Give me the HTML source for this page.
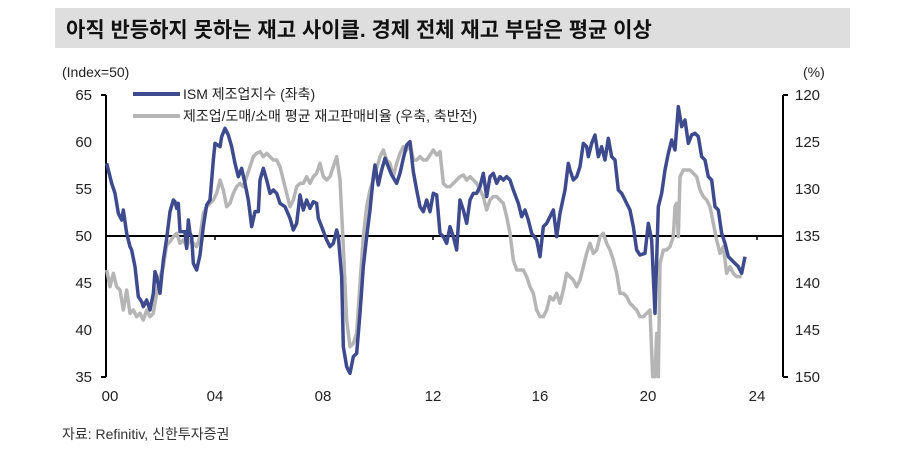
<!DOCTYPE html>
<html><head><meta charset="utf-8"><style>
body{margin:0;background:#fff;width:900px;height:450px;overflow:hidden;font-family:"Liberation Sans","Noto Sans CJK KR",sans-serif}
</style></head><body>
<svg width="900" height="450" xmlns="http://www.w3.org/2000/svg" font-family="Liberation Sans, Noto Sans CJK KR, sans-serif">
<rect x="55" y="8" width="795" height="40" fill="#dedede"/>
<text x="66" y="37" font-size="21" font-weight="bold" fill="#111">아직 반등하지 못하는 재고 사이클. 경제 전체 재고 부담은 평균 이상</text>
<text x="62" y="77" font-size="14" fill="#222">(Index=50)</text>
<text x="803" y="77" font-size="14" fill="#222">(%)</text>
<g font-size="15" fill="#222" text-anchor="end">
<text x="92" y="100">65</text><text x="92" y="147">60</text><text x="92" y="194">55</text><text x="92" y="241">50</text><text x="92" y="288">45</text><text x="92" y="335">40</text><text x="92" y="382">35</text>
</g>
<g font-size="15" fill="#222">
<text x="795" y="100">120</text><text x="795" y="147">125</text><text x="795" y="194">130</text><text x="795" y="241">135</text><text x="795" y="288">140</text><text x="795" y="335">145</text><text x="795" y="382">150</text>
</g>
<g font-size="15" fill="#222" text-anchor="middle">
<text x="110" y="401">00</text><text x="215" y="401">04</text><text x="323" y="401">08</text><text x="433" y="401">12</text><text x="540" y="401">16</text><text x="648" y="401">20</text><text x="757" y="401">24</text>
</g>
<g stroke="#000" stroke-width="2" fill="none">
<path d="M106 95V377 M101 95H106 M101 377H106"/>
<path d="M783 95V377 M783 95H788 M783 377H788"/>
<path d="M106 236H783"/>
<path d="M215 236v4 M433 236v4 M757 236v4" stroke-width="1.5"/>
</g>
<g transform="translate(60,80) scale(0.33333)" fill="none" stroke-linejoin="round">
<polyline vector-effect="non-scaling-stroke" stroke="#b5b5b5" stroke-width="3.5" points="140,570 150,620 160,580 170,620 180,630 190,690 200,630 210,700 220,690 230,710 240,700 250,720 260,690 270,710 280,700 290,640 300,590 310,560 320,495 330,485 340,470 350,460 360,490 370,480 380,500 390,480 400,490 410,500 420,470 430,400 440,380 450,370 460,360 470,340 480,300 490,330 500,380 510,370 520,340 530,320 540,310 550,320 560,290 570,260 580,230 590,220 600,215 610,230 620,220 630,230 640,240 650,240 660,260 670,300 680,340 690,380 700,360 710,320 720,310 730,310 740,290 750,310 760,290 770,280 780,250 790,290 800,300 810,290 820,260 830,230 840,300 850,500 860,720 870,800 880,790 890,760 900,610 910,470 920,380 930,330 940,300 950,265 960,230 970,210 980,240 990,250 1000,290 1010,250 1020,220 1030,200 1040,210 1050,190 1060,240 1070,240 1080,230 1090,240 1100,240 1110,225 1120,210 1130,225 1140,215 1150,310 1160,320 1170,320 1180,310 1190,300 1200,290 1210,285 1220,300 1230,290 1240,300 1250,310 1260,330 1270,350 1280,390 1290,360 1300,350 1310,350 1320,360 1330,370 1340,410 1350,460 1360,540 1370,570 1380,570 1390,570 1400,590 1410,620 1420,640 1430,690 1440,710 1450,710 1460,690 1470,650 1480,660 1490,640 1500,670 1510,630 1520,580 1530,590 1540,600 1550,620 1560,600 1570,560 1580,520 1590,490 1600,520 1610,510 1620,470 1630,460 1640,490 1650,510 1660,540 1670,580 1680,640 1690,640 1700,650 1710,670 1720,680 1730,690 1740,710 1750,710 1760,700 1770,690 1778,890 1785,890 1790,760 1795,890 1800,550 1810,510 1820,510 1830,500 1840,470 1845,380 1850,370 1855,470 1860,290 1870,270 1880,270 1890,270 1900,280 1910,290 1920,330 1930,350 1940,360 1950,380 1960,430 1970,480 1980,520 1990,500 2000,580 2010,560 2020,580 2030,590 2045,590"/>
<polyline vector-effect="non-scaling-stroke" stroke="#3d4a8d" stroke-width="3.5" points="140,250 155,310 165,340 175,400 185,420 190,390 200,460 210,500 215,510 225,560 235,650 245,665 250,680 260,660 270,690 280,640 285,575 290,590 300,640 310,540 320,475 330,395 340,360 345,365 350,385 355,370 360,455 375,455 380,505 385,420 390,460 395,470 400,550 410,570 420,525 430,440 440,375 450,360 460,240 465,190 480,200 485,170 495,145 505,165 515,200 525,250 535,290 545,265 555,310 565,360 575,440 585,395 595,395 600,300 610,265 620,300 630,340 640,330 650,340 660,370 675,380 690,415 700,450 710,430 720,345 730,390 740,360 750,385 760,365 770,370 775,415 785,440 800,480 810,500 820,490 830,450 835,470 845,590 850,800 860,860 870,880 880,830 890,820 900,700 910,560 920,470 930,390 940,290 945,255 955,315 965,270 975,235 985,260 995,285 1010,310 1020,280 1030,235 1040,195 1050,185 1060,275 1070,330 1080,380 1090,395 1100,360 1110,395 1120,340 1130,345 1140,460 1150,470 1160,490 1170,440 1180,470 1190,510 1200,360 1210,390 1220,430 1230,360 1240,340 1250,340 1260,320 1270,280 1280,350 1290,290 1300,280 1310,310 1320,290 1330,300 1340,290 1350,300 1360,330 1375,370 1385,410 1395,390 1405,420 1415,460 1430,480 1440,530 1450,440 1460,430 1470,410 1480,390 1490,470 1500,400 1515,330 1525,250 1530,270 1540,300 1550,290 1560,260 1570,190 1580,200 1585,230 1595,190 1605,165 1615,230 1625,200 1635,240 1645,175 1655,230 1665,240 1675,330 1685,340 1695,360 1710,390 1720,440 1730,510 1740,525 1755,520 1765,430 1775,480 1785,700 1795,380 1805,340 1815,270 1825,220 1835,180 1845,210 1855,80 1865,140 1875,120 1885,190 1895,165 1905,160 1915,170 1925,230 1935,240 1945,290 1955,300 1965,380 1975,390 1985,460 1995,490 2005,530 2015,540 2025,550 2035,560 2045,580 2055,530"/>
</g>
<line x1="133" y1="94" x2="180" y2="94" stroke="#3d4a8d" stroke-width="4"/>
<text x="183" y="99" font-size="14" fill="#222">ISM 제조업지수 (좌축)</text>
<line x1="133" y1="116" x2="180" y2="116" stroke="#b5b5b5" stroke-width="4"/>
<text x="183" y="121" font-size="14" fill="#222">제조업/도매/소매 평균 재고판매비율 (우축, 축반전)</text>
<text x="62" y="439" font-size="14" fill="#333">자료: Refinitiv, 신한투자증권</text>
</svg>
</body></html>
